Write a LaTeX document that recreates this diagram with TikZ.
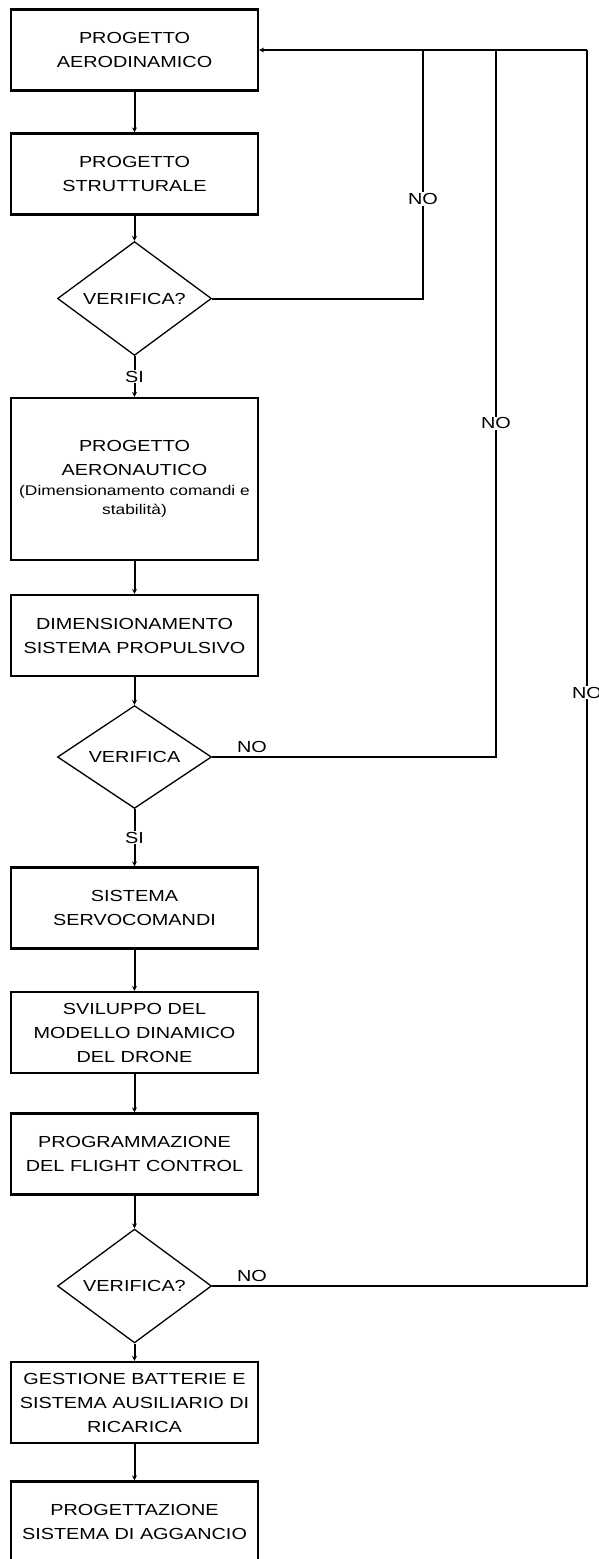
\documentclass[tikz,border=0pt]{standalone}
\usepackage{fontspec}
\setmainfont{Liberation Sans}[FakeStretch=1.24]
\usetikzlibrary{arrows.meta,shapes.geometric}

\begin{document}
\begin{tikzpicture}[
    x=1pt, y=-1pt,
    >={Stealth[length=5pt,width=5pt]},
    every node/.style={font=\fontsize{16}{24}\selectfont},
    box/.style={draw, line width=2.2pt, minimum width=247pt, minimum height=81pt, align=center, inner sep=2pt},
    test/.style={draw, diamond, line width=1.3pt, minimum width=154pt, minimum height=93pt, inner sep=0pt},
    arrow/.style={->, line width=2pt},
    conn/.style={line width=2pt},
    lbl/.style={fill=white, inner sep=1pt}
]
\useasboundingbox (0,0) rectangle (599,1559);

% ---- First block: aerodynamics and structure ----
\node[box] (aero) at (134.5, 50) {PROGETTO\\AERODINAMICO};
\node[box] (strut) at (134.5, 174) {PROGETTO\\STRUTTURALE};
\node[test] (ver1) at (134.5, 298.5) {VERIFICA?};

% ---- Second block: aeronautics and propulsion ----
\node[box, minimum height=162pt] (aeron) at (134.5, 479) {PROGETTO\\AERONAUTICO\\[-4pt]{\fontsize{14}{20}\selectfont (Dimensionamento comandi e}\\[-5pt]{\fontsize{14}{20}\selectfont stabilità)}};
\node[box] (prop) at (134.5, 635.5) {DIMENSIONAMENTO\\SISTEMA PROPULSIVO};
\node[test] (ver2) at (134.5, 757) {VERIFICA};

% ---- Third block: controls ----
\node[box] (servo) at (134.5, 908) {SISTEMA\\SERVOCOMANDI};
\node[box] (model) at (134.5, 1032.5) {SVILUPPO DEL\\MODELLO DINAMICO\\DEL DRONE};
\node[box] (fc) at (134.5, 1154) {PROGRAMMAZIONE\\DEL FLIGHT CONTROL};
\node[test] (ver3) at (134.5, 1286) {VERIFICA?};

% ---- Last block ----
\node[box] (batt) at (134.5, 1402.5) {GESTIONE BATTERIE E\\SISTEMA AUSILIARIO DI\\RICARICA};
\node[box] (hook) at (134.5, 1522) {PROGETTAZIONE\\SISTEMA DI AGGANCIO};

% ---- Main flow ----
\draw[arrow] (aero) -- (strut);
\draw[arrow] (strut) -- (ver1);
\draw[arrow] (ver1) -- node[lbl] {SI} (aeron);
\draw[arrow] (aeron) -- (prop);
\draw[arrow] (prop) -- (ver2);
\draw[arrow] (ver2) -- node[lbl] {SI} (servo);
\draw[arrow] (servo) -- (model);
\draw[arrow] (model) -- (fc);
\draw[arrow] (fc) -- (ver3);
\draw[arrow] (ver3) -- (batt);
\draw[arrow] (batt) -- (hook);

% ---- Feedback loops ----
\coordinate (j1) at (423, 50);
\coordinate (j2) at (496, 50);
\coordinate (j3) at (587, 50);
\draw[conn] (ver1.east) -| node[lbl, pos=0.70] {NO} (j1);
\draw[conn] (ver2.east) -| node[above, pos=0.07] {NO} node[lbl, pos=0.736] {NO} (j2);
\draw[conn] (ver3.east) -| node[above, pos=0.053] {NO} node[lbl, pos=0.74] {NO} (j3);
\draw[arrow] (j3) -- (aero.east);

\end{tikzpicture}
\end{document}
